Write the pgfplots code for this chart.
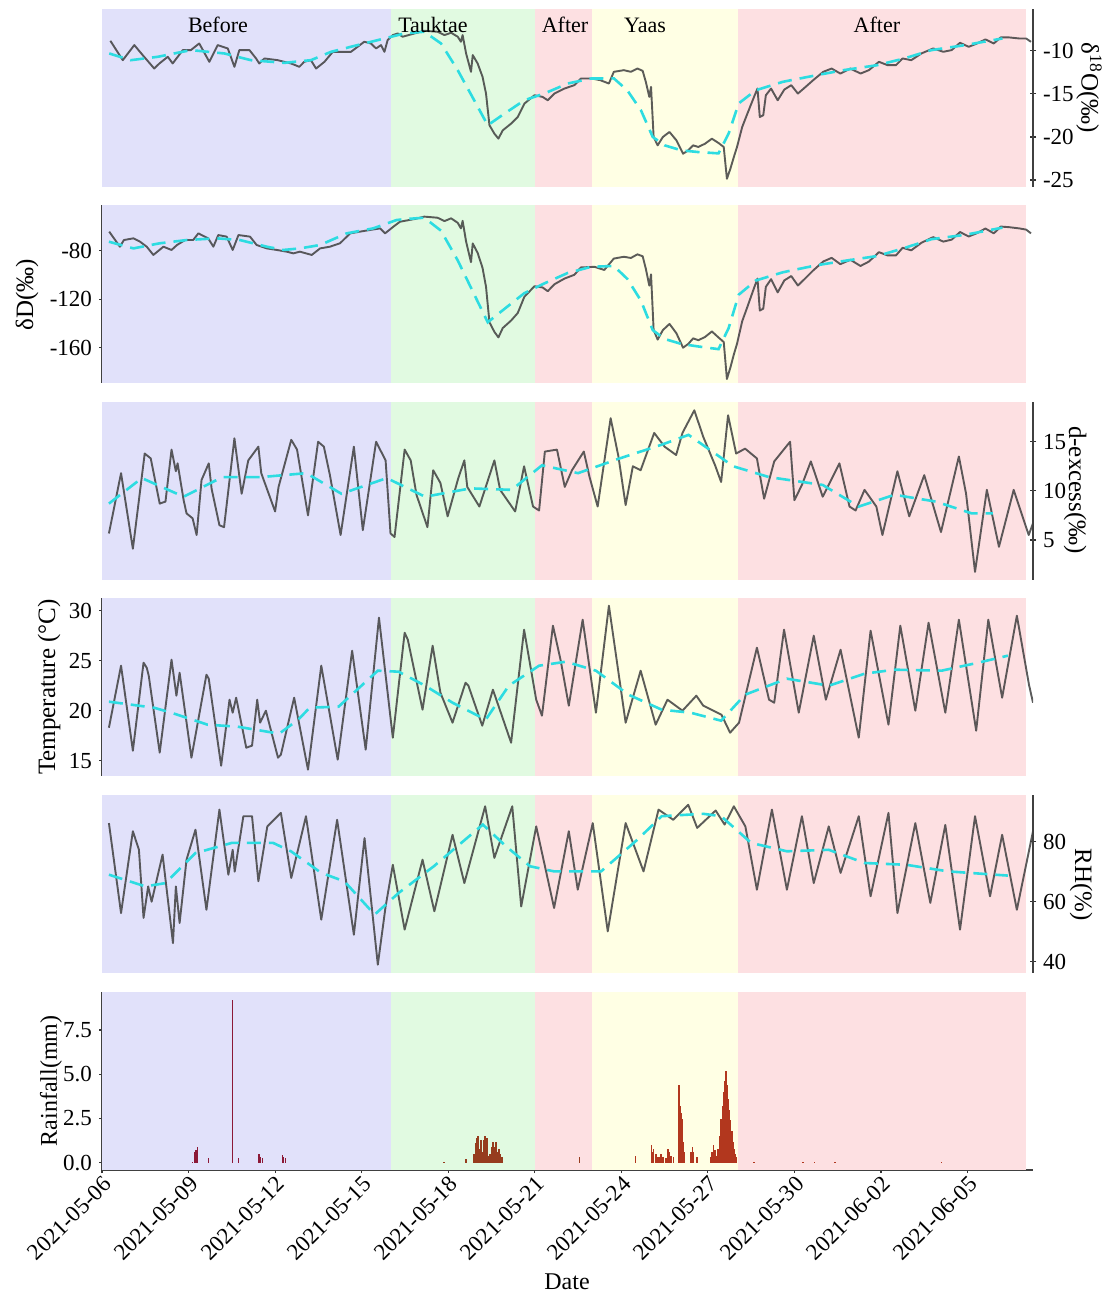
\documentclass[border=0pt]{standalone}
\usepackage{fontspec}
\setmainfont{Liberation Serif}
\usepackage{pgfplots}
\pgfplotsset{compat=1.18}

\definecolor{bgbefore}{RGB}{225,225,250}
\definecolor{bgtauk}{RGB}{225,250,225}
\definecolor{bgafter}{RGB}{253,224,226}
\definecolor{bgyaas}{RGB}{255,255,228}
\definecolor{trendc}{RGB}{45,220,225}
\definecolor{rainA}{RGB}{140,25,55}
\definecolor{rainB}{RGB}{150,60,30}
\definecolor{rainC}{RGB}{178,55,30}

\pgfplotsset{
  panel/.style={
    scale only axis, width=465.5pt, height=89pt,
    xmin=0, xmax=32.27, anchor=south west,
    tick align=outside, major tick length=3pt,
    every tick/.style={draw=black!80, line width=0.6pt},
    tick label style={font=\fontsize{11.5}{13}\selectfont},
    /pgf/number format/assume math mode=true,
  },
  obs/.style={draw=black!75, draw opacity=0.85, line width=0.95pt, line join=round},
  trend/.style={draw=trendc, line width=1.3pt, dash pattern=on 7pt off 4pt},
}

% period shading, same in every panel
\newcommand{\bands}[2]{%
  \addplot[fill=bgbefore, draw=none] coordinates {(0,#1) (10,#1) (10,#2) (0,#2)};
  \addplot[fill=bgtauk, draw=none] coordinates {(10,#1) (15,#1) (15,#2) (10,#2)};
  \addplot[fill=bgafter, draw=none] coordinates {(15,#1) (17,#1) (17,#2) (15,#2)};
  \addplot[fill=bgyaas, draw=none] coordinates {(17,#1) (22.05,#1) (22.05,#2) (17,#2)};
  \addplot[fill=bgafter, draw=none] coordinates {(22.05,#1) (32.03,#1) (32.03,#2) (22.05,#2)};
}

\begin{document}
\begin{tikzpicture}
\useasboundingbox (0,0) rectangle (555.5pt,649.5pt);

% d18O
\begin{axis}[panel, at={(51pt,556pt)}, ymin=-25.8, ymax=-5.15,
  axis x line=none, axis y line=right, axis line style={-, draw=black!75, line width=0.75pt},
  ytick={-25,-20,-15,-10}]
\bands{-25.8}{-5.15}
\addplot[obs] coordinates {(0.29,-8.84) (0.72,-11.09) (1.12,-9.34) (1.41,-10.5) (1.81,-12.06) (1.99,-11.47) (2.28,-10.7) (2.45,-11.47) (2.8,-9.92) (3.08,-9.92) (3.37,-9.15) (3.72,-11.28) (4.01,-9.34) (4.36,-9.73) (4.59,-11.86) (4.76,-9.92) (5.11,-9.92) (5.34,-10.89) (5.45,-11.47) (5.63,-10.89) (6.09,-11.09) (6.55,-11.47) (6.84,-11.86) (7.01,-11.28) (7.24,-11.09) (7.42,-12.06) (7.71,-11.28) (8.0,-10.12) (8.63,-10.12) (8.86,-9.54) (9.09,-8.95) (9.32,-9.15) (9.5,-9.73) (9.67,-9.34) (9.79,-10.12) (9.9,-8.76) (10.08,-8.18) (10.25,-7.99) (10.42,-8.37) (10.83,-7.99) (11.17,-7.68) (11.63,-7.79) (11.87,-8.18) (12.1,-7.91) (12.33,-8.37) (12.44,-8.95) (12.5,-8.18) (12.62,-10.31) (12.79,-12.44) (12.85,-10.5) (13.02,-11.47) (13.19,-13.02) (13.31,-14.96) (13.43,-18.64) (13.6,-19.61) (13.74,-20.19) (13.89,-19.23) (14.18,-18.45) (14.41,-17.68) (14.64,-16.13) (14.99,-15.16) (15.27,-15.35) (15.45,-15.74) (15.68,-14.96) (16.03,-14.38) (16.37,-13.99) (16.6,-13.22) (16.98,-13.22) (17.27,-13.41) (17.57,-13.8) (17.74,-12.44) (18.09,-12.25) (18.33,-12.44) (18.56,-12.06) (18.74,-12.33) (18.85,-13.61) (18.97,-15.35) (19.03,-14.19) (19.12,-20.0) (19.26,-20.97) (19.44,-20.0) (19.67,-19.42) (19.91,-20.39) (20.14,-21.94) (20.32,-21.55) (20.49,-20.97) (20.67,-21.16) (20.9,-20.78) (21.14,-20.2) (21.37,-20.7) (21.55,-21.16) (21.66,-24.85) (21.78,-23.68) (21.9,-22.33) (22.01,-21.16) (22.19,-18.84) (22.37,-17.29) (22.6,-15.35) (22.72,-14.38) (22.8,-17.68) (22.92,-17.48) (23.01,-15.16) (23.19,-14.38) (23.42,-15.74) (23.65,-14.5) (23.89,-13.99) (24.12,-14.96) (24.36,-14.27) (24.65,-13.41) (25.0,-12.44) (25.29,-12.06) (25.59,-12.64) (25.94,-12.06) (26.29,-12.64) (26.58,-12.25) (26.93,-11.28) (27.23,-11.67) (27.52,-11.67) (27.75,-10.89) (28.05,-11.09) (28.4,-10.31) (28.81,-9.73) (29.16,-10.12) (29.45,-9.92) (29.74,-9.07) (30.04,-9.54) (30.33,-9.15) (30.62,-8.68) (30.91,-9.15) (31.15,-8.45) (31.44,-8.45) (31.79,-8.57) (32.03,-8.57) (32.2,-8.96)};
\addplot[trend] coordinates {(0.25,-10.31) (1.0,-11.09) (1.93,-10.7) (3.08,-9.92) (4.24,-10.31) (5.16,-11.09) (6.32,-11.4) (7.24,-11.09) (7.94,-10.12) (8.86,-9.34) (9.79,-8.57) (10.48,-7.99) (11.17,-7.79) (11.75,-9.15) (12.33,-12.25) (12.9,-15.74) (13.37,-18.64) (13.95,-17.29) (14.64,-15.74) (15.33,-14.96) (16.14,-13.8) (16.95,-13.22) (17.74,-13.2) (18.21,-14.6) (18.68,-16.9) (19.09,-20.0) (19.5,-20.97) (20.08,-21.55) (20.67,-21.75) (21.37,-21.9) (21.72,-19.6) (22.07,-16.1) (22.66,-14.58) (23.6,-13.6) (24.77,-12.83) (25.7,-12.25) (26.87,-11.67) (27.81,-10.89) (28.75,-9.92) (29.92,-9.34) (31.21,-8.57)};
\node[font=\fontsize{11}{13}\selectfont] at (axis cs:4.02,-7.0) {Before};
\node[font=\fontsize{11}{13}\selectfont] at (axis cs:11.47,-7.0) {Tauktae};
\node[font=\fontsize{11}{13}\selectfont] at (axis cs:16.05,-7.0) {After};
\node[font=\fontsize{11}{13}\selectfont] at (axis cs:18.82,-7.0) {Yaas};
\node[font=\fontsize{11}{13}\selectfont] at (axis cs:26.86,-7.0) {After};
\end{axis}

% dD
\begin{axis}[panel, at={(51pt,458pt)}, ymin=-189.1, ymax=-42.3,
  axis x line=none, axis y line=left, axis line style={-, draw=black!75, line width=0.75pt},
  ytick={-160,-120,-80}]
\bands{-189.1}{-42.3}
\addplot[obs] coordinates {(0.25,-64.3) (0.62,-76.7) (0.76,-71.2) (1.09,-69.8) (1.32,-72.6) (1.55,-76.7) (1.78,-83.5) (2.13,-76.7) (2.41,-79.4) (2.6,-75.3) (2.88,-71.2) (3.16,-71.2) (3.34,-65.7) (3.68,-69.8) (3.86,-76.7) (4.03,-67.1) (4.32,-68.4) (4.53,-79.4) (4.73,-67.1) (5.13,-68.4) (5.36,-75.3) (5.71,-78.1) (6.06,-79.4) (6.4,-80.8) (6.63,-82.2) (6.86,-80.8) (7.27,-83.5) (7.56,-78.1) (7.9,-76.7) (8.25,-73.9) (8.6,-65.7) (8.94,-64.3) (9.29,-62.9) (9.64,-61.6) (9.81,-65.7) (10.1,-60.2) (10.33,-56.1) (10.83,-53.9) (11.17,-51.9) (11.63,-52.8) (11.87,-55.6) (12.1,-53.3) (12.33,-57.0) (12.44,-61.6) (12.5,-55.4) (12.62,-72.5) (12.79,-89.5) (12.85,-74.0) (13.02,-81.8) (13.19,-94.2) (13.31,-109.7) (13.43,-139.1) (13.6,-146.9) (13.74,-151.5) (13.89,-143.8) (14.18,-137.6) (14.41,-131.4) (14.64,-118.0) (14.99,-109.3) (15.27,-110.3) (15.45,-113.4) (15.68,-107.7) (16.03,-103.0) (16.37,-99.9) (16.6,-93.8) (17.07,-93.3) (17.41,-95.9) (17.74,-86.5) (18.09,-85.0) (18.33,-86.0) (18.56,-83.0) (18.74,-84.6) (18.85,-94.9) (18.97,-108.8) (19.03,-99.5) (19.12,-145.5) (19.26,-153.3) (19.44,-145.5) (19.67,-140.4) (19.91,-148.1) (20.14,-160.0) (20.32,-156.9) (20.49,-152.3) (20.67,-153.8) (20.9,-151.2) (21.14,-146.6) (21.37,-151.6) (21.55,-155.3) (21.66,-185.8) (21.78,-176.4) (21.9,-165.6) (22.01,-156.8) (22.19,-138.2) (22.37,-126.3) (22.6,-110.8) (22.72,-103.0) (22.8,-129.4) (22.92,-127.8) (23.01,-109.8) (23.19,-103.5) (23.42,-114.4) (23.65,-104.5) (23.89,-100.9) (24.12,-108.7) (24.36,-103.2) (24.65,-96.3) (25.0,-88.9) (25.29,-85.9) (25.59,-91.1) (25.94,-87.5) (26.29,-92.6) (26.58,-89.0) (26.93,-81.2) (27.23,-83.9) (27.52,-83.9) (27.75,-77.6) (28.05,-79.7) (28.4,-73.5) (28.81,-68.8) (29.16,-72.5) (29.45,-70.9) (29.74,-64.6) (30.04,-68.3) (30.33,-65.5) (30.62,-61.7) (30.91,-65.7) (31.15,-60.1) (31.44,-60.6) (31.79,-61.6) (32.03,-62.6) (32.2,-65.7)};
\addplot[trend] coordinates {(0.24,-72.6) (1.09,-78.1) (2.0,-73.9) (2.94,-71.2) (3.97,-69.8) (4.78,-71.2) (5.71,-76.7) (6.29,-79.4) (6.86,-78.1) (7.56,-75.3) (8.48,-65.7) (9.4,-61.6) (10.21,-54.7) (10.48,-54.0) (11.17,-52.8) (11.75,-63.5) (12.33,-88.0) (12.9,-116.0) (13.37,-139.0) (13.95,-128.0) (14.64,-115.0) (15.33,-107.0) (16.14,-98.4) (16.95,-93.3) (17.74,-92.6) (18.21,-103.3) (18.68,-121.2) (19.09,-145.5) (19.5,-152.8) (20.08,-156.9) (20.67,-159.0) (21.37,-161.2) (21.72,-143.8) (22.07,-116.3) (22.66,-104.6) (23.6,-97.8) (24.77,-92.0) (25.7,-88.5) (26.87,-84.4) (27.81,-77.8) (28.75,-70.5) (29.92,-66.9) (31.21,-61.0)};
\end{axis}

% d-excess
\begin{axis}[panel, at={(51pt,359.5pt)}, ymin=0.92, ymax=19.05,
  axis x line=none, axis y line=right, axis line style={-, draw=black!75, line width=0.75pt},
  ytick={5,10,15}]
\bands{0.92}{19.05}
\addplot[obs] coordinates {(0.24,5.66) (0.66,11.8) (1.07,4.1) (1.48,13.8) (1.69,13.3) (2.0,8.7) (2.2,8.9) (2.41,14.2) (2.56,12.0) (2.62,12.8) (2.83,9.05) (2.93,7.7) (3.14,7.2) (3.28,5.5) (3.45,11.1) (3.7,12.8) (3.8,10.2) (4.07,6.5) (4.23,6.3) (4.59,15.35) (4.84,9.7) (5.07,13.1) (5.42,14.5) (5.52,11.8) (6.0,7.9) (6.12,10.4) (6.56,15.2) (6.76,14.2) (7.14,7.5) (7.49,15.0) (7.69,14.5) (7.9,11.6) (8.27,5.5) (8.73,14.5) (9.04,6.0) (9.5,15.0) (9.83,13.1) (10.0,5.66) (10.14,5.3) (10.49,14.2) (10.7,13.1) (10.9,9.6) (11.28,6.3) (11.48,12.1) (11.73,10.8) (11.98,7.4) (12.35,11.3) (12.56,13.1) (12.66,10.4) (13.08,8.4) (13.6,13.1) (13.8,10.1) (14.32,7.9) (14.63,12.5) (14.94,8.4) (15.15,8.0) (15.35,14.0) (15.77,14.2) (16.04,10.4) (16.29,12.1) (16.7,14.0) (16.9,11.4) (17.18,8.4) (17.63,17.4) (17.9,13.5) (18.15,8.55) (18.4,12.5) (18.67,12.1) (19.14,15.9) (19.5,14.5) (19.9,13.65) (20.12,15.9) (20.53,18.2) (20.84,15.5) (21.25,12.6) (21.46,10.9) (21.7,17.7) (21.98,13.8) (22.29,14.3) (22.7,13.3) (22.95,9.2) (23.3,13.0) (23.85,15.0) (24.0,9.05) (24.26,10.6) (24.57,13.0) (24.98,9.4) (25.56,12.8) (25.91,8.4) (26.12,8.0) (26.43,10.1) (26.84,8.4) (27.05,5.5) (27.57,12.0) (27.98,7.4) (28.5,11.6) (29.08,5.8) (29.7,13.5) (29.95,9.7) (30.26,1.75) (30.67,10.1) (31.09,4.3) (31.6,10.1) (32.12,5.5) (32.27,6.7)};
\addplot[trend] coordinates {(0.24,8.7) (1.38,11.3) (2.83,9.4) (4.17,11.4) (5.52,11.4) (7.08,11.8) (8.3,9.7) (9.87,11.3) (11.2,9.4) (12.77,10.25) (14.2,10.1) (15.25,12.6) (16.5,11.8) (17.94,13.3) (19.4,14.7) (20.33,15.7) (21.88,12.5) (23.12,11.4) (24.98,10.6) (26.23,8.4) (27.47,9.6) (28.91,8.9) (30.15,7.7) (30.88,7.7)};
\end{axis}

% temperature
\begin{axis}[panel, at={(51pt,261.5pt)}, ymin=13.47, ymax=31.27,
  axis x line=none, axis y line=left, axis line style={-, draw=black!75, line width=0.75pt},
  ytick={15,20,25,30}]
\bands{13.47}{31.27}
\addplot[obs] coordinates {(0.24,18.3) (0.66,24.5) (1.07,16.0) (1.44,24.8) (1.55,24.3) (1.62,23.5) (2.0,15.8) (2.41,25.1) (2.58,21.5) (2.69,23.8) (3.1,15.3) (3.62,23.6) (3.7,23.2) (4.13,14.5) (4.42,21.1) (4.53,19.8) (4.65,21.3) (5.0,16.3) (5.2,16.5) (5.38,21.1) (5.48,18.8) (5.68,20.0) (6.1,15.3) (6.2,15.6) (6.66,21.3) (7.14,14.1) (7.6,24.5) (8.17,15.1) (8.67,26.0) (9.14,16.1) (9.6,29.3) (10.08,17.3) (10.49,27.8) (10.6,27.1) (11.11,20.1) (11.46,26.5) (11.73,21.8) (12.15,18.8) (12.6,22.8) (12.7,22.5) (13.18,18.5) (13.55,22.1) (14.18,16.8) (14.63,28.1) (15.05,21.1) (15.25,19.5) (15.63,28.5) (15.9,25.0) (16.18,20.5) (16.66,29.1) (17.12,19.8) (17.57,30.5) (18.15,18.8) (18.67,24.0) (19.19,18.6) (19.6,21.1) (20.12,20.0) (20.6,21.5) (20.84,20.5) (21.47,19.6) (21.77,17.8) (22.08,18.8) (22.7,26.3) (23.12,21.1) (23.3,20.8) (23.64,28.1) (24.15,19.8) (24.67,27.5) (25.09,21.1) (25.6,26.1) (26.23,17.3) (26.64,28.0) (27.26,18.6) (27.67,28.5) (28.19,20.0) (28.65,28.8) (29.23,19.8) (29.7,29.1) (30.3,18.0) (30.72,29.1) (31.2,21.3) (31.71,29.5) (32.13,22.6) (32.27,20.8)};
\addplot[trend] coordinates {(0.24,20.9) (1.8,20.3) (2.4,19.8) (3.66,18.6) (4.7,18.4) (6.14,17.7) (6.8,19.1) (7.2,20.3) (8.2,20.4) (9.56,24.0) (10.28,23.9) (11.2,22.5) (12.15,20.8) (13.3,19.1) (14.1,22.5) (15.15,24.5) (16.08,24.9) (17.12,24.0) (18.25,21.6) (19.4,20.1) (20.4,19.8) (21.46,19.0) (22.29,21.6) (23.74,23.2) (25.2,22.5) (26.43,23.7) (27.47,24.1) (29.1,24.0) (30.37,24.8) (31.4,25.5)};
\end{axis}

% RH
\begin{axis}[panel, at={(51pt,163pt)}, ymin=36.23, ymax=95.57,
  axis x line=none, axis y line=right, axis line style={-, draw=black!75, line width=0.75pt},
  ytick={40,60,80}]
\bands{36.23}{95.57}
\addplot[obs] coordinates {(0.24,86.2) (0.66,56.2) (1.07,83.5) (1.28,77.3) (1.44,54.6) (1.6,65.1) (1.72,60.0) (2.1,75.7) (2.46,46.2) (2.56,65.1) (2.69,52.9) (2.93,74) (3.24,84) (3.62,57.3) (4.07,90.7) (4.38,69) (4.53,77.3) (4.6,70) (4.9,88.5) (5.2,88.5) (5.42,66.8) (5.73,85.1) (6.2,89.6) (6.56,67.9) (7.07,88.5) (7.6,54) (8.15,87.3) (8.73,49) (9.1,81.2) (9.56,39) (9.83,58.4) (10.08,72.3) (10.49,50.7) (11.11,74) (11.52,56.8) (12.15,82.3) (12.56,66.2) (13.28,91.8) (13.6,74.6) (14.22,91.8) (14.53,58.4) (15.05,85.1) (15.67,57.9) (16.18,83.5) (16.49,64) (17.01,86.2) (17.53,50.1) (18.15,86.2) (18.77,70.1) (19.29,90.7) (19.8,87.3) (20.32,92.3) (20.63,84.6) (21.27,90.4) (21.58,85.7) (21.9,91.8) (22.3,85.1) (22.7,64) (23.22,90.7) (23.74,64) (24.26,88.5) (24.67,66.2) (25.19,85.1) (25.6,69.6) (26.23,88.5) (26.64,61.8) (27.26,89.6) (27.57,56.2) (28.19,86.2) (28.71,59.6) (29.23,85.6) (29.74,50.7) (30.26,88.5) (30.78,61.8) (31.2,82.3) (31.71,57.3) (32.27,83.5)};
\addplot[trend] coordinates {(0.24,69) (1.5,65.1) (2.2,66.2) (3.24,76.2) (4.5,79.6) (5.93,79.6) (6.55,76.8) (7.6,69.6) (8.4,66.8) (9.45,55.7) (10.28,62.9) (11.5,71.8) (13.2,85.7) (14.0,78.5) (14.84,71.8) (15.67,70.1) (17.3,70.1) (18.56,80.7) (19.4,88.5) (20.84,89.3) (21.46,88.5) (22.5,79.6) (23.74,76.8) (25.19,77.3) (26.43,72.9) (27.88,72.3) (29.33,70.1) (31.4,68.7)};
\end{axis}

% rainfall
\begin{axis}[panel, at={(51pt,64.5pt)}, ymin=-0.41, ymax=9.65,
  axis x line=bottom, axis y line=left, axis line style={-, draw=black!75, line width=0.75pt},
  ytick={0,2.5,5,7.5},
  yticklabel style={/pgf/number format/fixed, /pgf/number format/fixed zerofill, /pgf/number format/precision=1},
  xtick={0,3,...,30},
  xticklabels={2021-05-06,2021-05-09,2021-05-12,2021-05-15,2021-05-18,2021-05-21,2021-05-24,2021-05-27,2021-05-30,2021-06-02,2021-06-05},
  xticklabel style={rotate=45, anchor=north east, inner sep=0.5pt, font=\fontsize{11.5}{13}\selectfont}]
\bands{-0.41}{9.65}
\addplot[ycomb, draw=rainA, line width=0.7pt] coordinates {(3.14,0.05) (3.22,0.6) (3.26,0.72) (3.30,0.9) (3.69,0.28) (4.52,9.2) (4.73,0.25) (5.44,0.49) (5.48,0.3) (5.57,0.25) (6.26,0.45) (6.30,0.3) (6.35,0.25)};
\addplot[ycomb, draw=rainB, line width=0.7pt] coordinates {(11.85,0.05) (12.62,0.2) (12.90,0.5) (12.94,1.1) (12.98,1.4) (13.03,1.5) (13.07,0.8) (13.14,1.3) (13.18,0.6) (13.24,1.3) (13.28,1.5) (13.34,1.4) (13.38,0.4) (13.45,0.5) (13.50,0.9) (13.55,1.2) (13.60,0.9) (13.66,1.2) (13.70,0.6) (13.76,0.8) (13.82,0.5) (13.86,0.3) (16.55,0.3)};
\addplot[ycomb, draw=rainC, line width=0.7pt] coordinates {(18.49,0.4) (19.04,1.0) (19.08,0.6) (19.12,0.8) (19.20,0.5) (19.25,0.35) (19.30,0.3) (19.38,0.5) (19.45,0.3) (19.55,0.25) (19.62,0.8) (19.67,0.6) (19.72,0.4) (19.80,0.3) (20.00,4.4) (20.04,3.2) (20.08,2.8) (20.12,2.5) (20.16,1.2) (20.20,0.6) (20.42,0.6) (20.46,0.9) (20.50,0.6) (20.62,0.3) (21.10,0.3) (21.15,0.6) (21.20,1.0) (21.25,0.7) (21.30,0.4) (21.35,0.8) (21.40,1.5) (21.45,2.5) (21.50,3.2) (21.55,4.0) (21.59,4.6) (21.63,5.2) (21.67,4.4) (21.71,3.6) (21.75,3.0) (21.79,2.4) (21.83,1.8) (21.87,1.2) (21.92,0.8) (21.96,0.5) (22.00,0.3) (22.6,0.03) (24.3,0.03) (24.7,0.03) (25.4,0.03) (29.1,0.05)};
\end{axis}

% axis titles
\node[rotate=-90, font=\fontsize{12.5}{14}\selectfont] at (544.5pt,605.5pt) {δ\textsuperscript{18}O(‰)};
\node[rotate=90, font=\fontsize{12.5}{14}\selectfont] at (13.5pt,502pt) {δD(‰)};
\node[rotate=-90, font=\fontsize{12.5}{14}\selectfont] at (537.5pt,404.5pt) {d-excess(‰)};
\node[rotate=90, font=\fontsize{12.5}{14}\selectfont] at (24.5pt,306pt) {Temperature (°C)};
\node[rotate=-90, font=\fontsize{12.5}{14}\selectfont] at (540.5pt,207pt) {RH(\%)};
\node[rotate=90, font=\fontsize{12}{14}\selectfont] at (25.5pt,109pt) {Rainfall(mm)};
\node[font=\fontsize{12}{14}\selectfont] at (283.5pt,8.5pt) {Date};
\end{tikzpicture}
\end{document}
